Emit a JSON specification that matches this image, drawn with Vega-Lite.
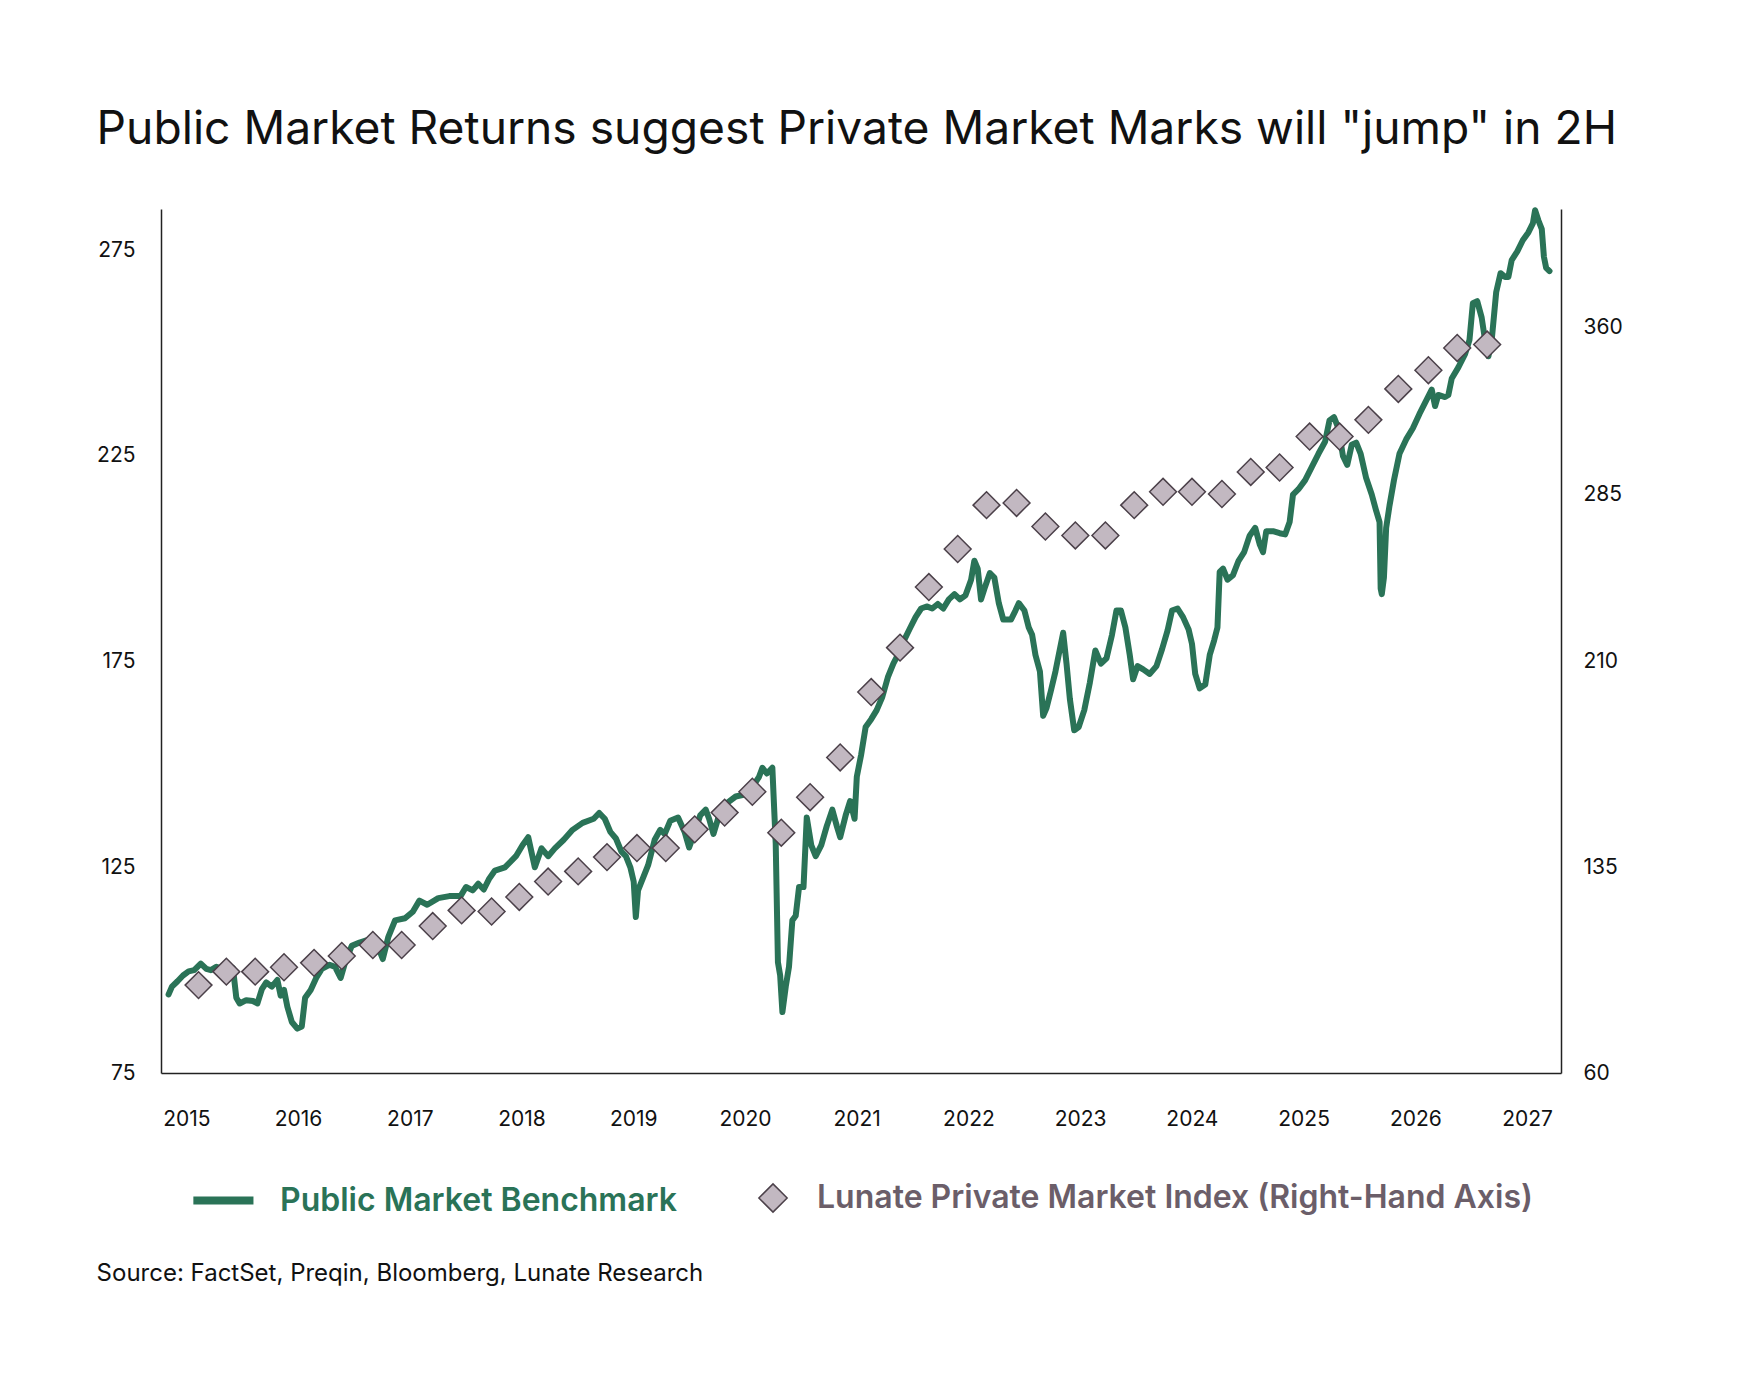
{
  "$schema": "https://vega.github.io/schema/vega-lite/v6.json",
  "background": "white",
  "padding": {"left": 96, "top": 107, "right": 0, "bottom": 0},
  "title": {
    "text": "Public Market Returns suggest Private Market Marks will \"jump\" in 2H",
    "anchor": "start",
    "frame": "bounds",
    "font": "Inter",
    "fontSize": 46.2,
    "fontWeight": 400,
    "color": "#111111",
    "offset": 53
  },
  "resolve": {
    "scale": {"stroke": "independent", "fill": "independent"},
    "legend": {"stroke": "independent", "fill": "independent"}
  },
  "datasets": {
    "bench": [
      {"year": 2014.841, "value": 94.1}, {"year": 2014.871, "value": 96.0}, {"year": 2014.921, "value": 97.3},
      {"year": 2014.970, "value": 98.7}, {"year": 2015.020, "value": 99.7}, {"year": 2015.070, "value": 100.0},
      {"year": 2015.129, "value": 101.6}, {"year": 2015.179, "value": 100.3}, {"year": 2015.219, "value": 100.0},
      {"year": 2015.268, "value": 100.8}, {"year": 2015.318, "value": 100.3}, {"year": 2015.368, "value": 101.3},
      {"year": 2015.417, "value": 100.5}, {"year": 2015.447, "value": 93.3}, {"year": 2015.477, "value": 91.9},
      {"year": 2015.536, "value": 92.7}, {"year": 2015.596, "value": 92.5}, {"year": 2015.636, "value": 91.9},
      {"year": 2015.676, "value": 95.4}, {"year": 2015.715, "value": 97.0}, {"year": 2015.765, "value": 96.0},
      {"year": 2015.815, "value": 97.6}, {"year": 2015.844, "value": 93.8}, {"year": 2015.874, "value": 95.2},
      {"year": 2015.904, "value": 91.1}, {"year": 2015.944, "value": 87.4}, {"year": 2015.993, "value": 85.8},
      {"year": 2016.033, "value": 86.3}, {"year": 2016.063, "value": 93.3}, {"year": 2016.113, "value": 95.2},
      {"year": 2016.162, "value": 98.1}, {"year": 2016.212, "value": 100.3}, {"year": 2016.281, "value": 101.3},
      {"year": 2016.331, "value": 100.8}, {"year": 2016.381, "value": 98.1}, {"year": 2016.421, "value": 101.9},
      {"year": 2016.480, "value": 105.9}, {"year": 2016.550, "value": 106.7}, {"year": 2016.639, "value": 107.5},
      {"year": 2016.708, "value": 106.2}, {"year": 2016.758, "value": 102.7}, {"year": 2016.808, "value": 108.1},
      {"year": 2016.868, "value": 112.1}, {"year": 2016.957, "value": 112.6}, {"year": 2017.027, "value": 114.2},
      {"year": 2017.086, "value": 116.9}, {"year": 2017.156, "value": 115.9}, {"year": 2017.255, "value": 117.5},
      {"year": 2017.354, "value": 118.0}, {"year": 2017.454, "value": 118.0}, {"year": 2017.503, "value": 120.2},
      {"year": 2017.563, "value": 119.4}, {"year": 2017.613, "value": 121.0}, {"year": 2017.662, "value": 119.6},
      {"year": 2017.712, "value": 122.3}, {"year": 2017.762, "value": 124.2}, {"year": 2017.851, "value": 125.0},
      {"year": 2017.950, "value": 127.7}, {"year": 2018.010, "value": 130.4}, {"year": 2018.060, "value": 132.3},
      {"year": 2018.119, "value": 125.0}, {"year": 2018.179, "value": 129.6}, {"year": 2018.238, "value": 127.7},
      {"year": 2018.298, "value": 129.6}, {"year": 2018.378, "value": 131.7}, {"year": 2018.457, "value": 134.1},
      {"year": 2018.547, "value": 135.8}, {"year": 2018.646, "value": 136.8}, {"year": 2018.695, "value": 138.2},
      {"year": 2018.745, "value": 136.8}, {"year": 2018.795, "value": 133.6}, {"year": 2018.845, "value": 132.0},
      {"year": 2018.894, "value": 128.8}, {"year": 2018.934, "value": 127.7}, {"year": 2018.974, "value": 125.0},
      {"year": 2019.004, "value": 121.5}, {"year": 2019.023, "value": 112.9}, {"year": 2019.043, "value": 119.4},
      {"year": 2019.093, "value": 122.8}, {"year": 2019.133, "value": 125.5}, {"year": 2019.192, "value": 131.7},
      {"year": 2019.242, "value": 134.1}, {"year": 2019.282, "value": 133.1}, {"year": 2019.331, "value": 136.3},
      {"year": 2019.401, "value": 137.1}, {"year": 2019.460, "value": 133.6}, {"year": 2019.500, "value": 129.8},
      {"year": 2019.550, "value": 133.6}, {"year": 2019.599, "value": 137.6}, {"year": 2019.649, "value": 139.0},
      {"year": 2019.679, "value": 136.8}, {"year": 2019.718, "value": 133.1}, {"year": 2019.768, "value": 137.6},
      {"year": 2019.838, "value": 140.6}, {"year": 2019.917, "value": 142.2}, {"year": 2019.997, "value": 142.7},
      {"year": 2020.076, "value": 144.9}, {"year": 2020.126, "value": 147.0}, {"year": 2020.156, "value": 149.2},
      {"year": 2020.196, "value": 147.8}, {"year": 2020.245, "value": 149.2}, {"year": 2020.275, "value": 130.9},
      {"year": 2020.295, "value": 101.9}, {"year": 2020.315, "value": 98.7}, {"year": 2020.335, "value": 89.8},
      {"year": 2020.365, "value": 96.0}, {"year": 2020.394, "value": 100.8}, {"year": 2020.424, "value": 112.1},
      {"year": 2020.454, "value": 113.2}, {"year": 2020.484, "value": 120.2}, {"year": 2020.524, "value": 120.2},
      {"year": 2020.553, "value": 137.1}, {"year": 2020.593, "value": 130.4}, {"year": 2020.633, "value": 127.7},
      {"year": 2020.683, "value": 130.4}, {"year": 2020.732, "value": 135.0}, {"year": 2020.782, "value": 139.0},
      {"year": 2020.822, "value": 135.0}, {"year": 2020.852, "value": 132.3}, {"year": 2020.901, "value": 137.6},
      {"year": 2020.941, "value": 141.1}, {"year": 2020.981, "value": 136.8}, {"year": 2021.001, "value": 147.0},
      {"year": 2021.040, "value": 152.4}, {"year": 2021.080, "value": 159.1}, {"year": 2021.130, "value": 161.0},
      {"year": 2021.179, "value": 163.2}, {"year": 2021.229, "value": 166.4}, {"year": 2021.279, "value": 171.2},
      {"year": 2021.328, "value": 174.5}, {"year": 2021.378, "value": 177.1}, {"year": 2021.428, "value": 180.4},
      {"year": 2021.477, "value": 183.1}, {"year": 2021.527, "value": 185.8}, {"year": 2021.577, "value": 187.9},
      {"year": 2021.626, "value": 188.4}, {"year": 2021.676, "value": 187.9}, {"year": 2021.726, "value": 189.0},
      {"year": 2021.775, "value": 187.9}, {"year": 2021.825, "value": 190.1}, {"year": 2021.875, "value": 191.4},
      {"year": 2021.924, "value": 190.1}, {"year": 2021.974, "value": 191.1}, {"year": 2022.024, "value": 194.9},
      {"year": 2022.053, "value": 199.5}, {"year": 2022.083, "value": 197.6}, {"year": 2022.113, "value": 190.1},
      {"year": 2022.143, "value": 192.7}, {"year": 2022.192, "value": 196.5}, {"year": 2022.232, "value": 195.4},
      {"year": 2022.272, "value": 189.2}, {"year": 2022.312, "value": 185.2}, {"year": 2022.381, "value": 185.2},
      {"year": 2022.421, "value": 187.4}, {"year": 2022.451, "value": 189.2}, {"year": 2022.501, "value": 187.4},
      {"year": 2022.540, "value": 183.3}, {"year": 2022.570, "value": 181.5}, {"year": 2022.600, "value": 176.6},
      {"year": 2022.640, "value": 172.6}, {"year": 2022.669, "value": 161.8}, {"year": 2022.699, "value": 163.7},
      {"year": 2022.739, "value": 168.0}, {"year": 2022.779, "value": 172.6}, {"year": 2022.808, "value": 176.6},
      {"year": 2022.848, "value": 182.0}, {"year": 2022.878, "value": 174.5}, {"year": 2022.908, "value": 165.9},
      {"year": 2022.947, "value": 158.3}, {"year": 2022.987, "value": 159.1}, {"year": 2023.037, "value": 163.2},
      {"year": 2023.087, "value": 169.9}, {"year": 2023.136, "value": 177.7}, {"year": 2023.186, "value": 174.5},
      {"year": 2023.236, "value": 175.8}, {"year": 2023.285, "value": 181.5}, {"year": 2023.325, "value": 187.4},
      {"year": 2023.365, "value": 187.4}, {"year": 2023.405, "value": 183.3}, {"year": 2023.444, "value": 176.6},
      {"year": 2023.474, "value": 170.7}, {"year": 2023.514, "value": 173.9}, {"year": 2023.564, "value": 173.1},
      {"year": 2023.623, "value": 172.0}, {"year": 2023.683, "value": 173.9}, {"year": 2023.733, "value": 178.0},
      {"year": 2023.782, "value": 182.5}, {"year": 2023.822, "value": 187.4}, {"year": 2023.872, "value": 187.9},
      {"year": 2023.921, "value": 185.8}, {"year": 2023.971, "value": 182.8}, {"year": 2024.001, "value": 179.3},
      {"year": 2024.030, "value": 172.0}, {"year": 2024.070, "value": 168.5}, {"year": 2024.120, "value": 169.4},
      {"year": 2024.160, "value": 176.6}, {"year": 2024.199, "value": 180.1}, {"year": 2024.229, "value": 183.3},
      {"year": 2024.249, "value": 196.8}, {"year": 2024.279, "value": 197.6}, {"year": 2024.319, "value": 194.9},
      {"year": 2024.368, "value": 196.0}, {"year": 2024.418, "value": 199.5}, {"year": 2024.468, "value": 201.6},
      {"year": 2024.517, "value": 205.6}, {"year": 2024.567, "value": 207.5}, {"year": 2024.607, "value": 203.5},
      {"year": 2024.637, "value": 201.6}, {"year": 2024.666, "value": 206.7}, {"year": 2024.726, "value": 206.7},
      {"year": 2024.786, "value": 206.2}, {"year": 2024.835, "value": 205.9}, {"year": 2024.875, "value": 208.9},
      {"year": 2024.905, "value": 215.6}, {"year": 2024.954, "value": 216.9}, {"year": 2025.014, "value": 219.1},
      {"year": 2025.074, "value": 222.3}, {"year": 2025.133, "value": 225.5}, {"year": 2025.193, "value": 228.5},
      {"year": 2025.232, "value": 233.6}, {"year": 2025.272, "value": 234.4}, {"year": 2025.312, "value": 231.7},
      {"year": 2025.352, "value": 225.0}, {"year": 2025.391, "value": 222.8}, {"year": 2025.431, "value": 227.7},
      {"year": 2025.471, "value": 228.2}, {"year": 2025.511, "value": 225.5}, {"year": 2025.560, "value": 219.6},
      {"year": 2025.610, "value": 215.6}, {"year": 2025.650, "value": 211.6}, {"year": 2025.680, "value": 208.9},
      {"year": 2025.690, "value": 192.7}, {"year": 2025.700, "value": 191.4}, {"year": 2025.719, "value": 195.4},
      {"year": 2025.739, "value": 207.5}, {"year": 2025.769, "value": 212.9}, {"year": 2025.809, "value": 219.1},
      {"year": 2025.858, "value": 225.5}, {"year": 2025.918, "value": 229.0}, {"year": 2025.978, "value": 231.7},
      {"year": 2026.037, "value": 235.2}, {"year": 2026.097, "value": 238.4}, {"year": 2026.147, "value": 241.1},
      {"year": 2026.177, "value": 237.1}, {"year": 2026.206, "value": 239.8}, {"year": 2026.266, "value": 239.3},
      {"year": 2026.296, "value": 239.8}, {"year": 2026.326, "value": 243.8}, {"year": 2026.385, "value": 246.5},
      {"year": 2026.445, "value": 249.7}, {"year": 2026.485, "value": 253.2}, {"year": 2026.515, "value": 262.1},
      {"year": 2026.554, "value": 262.6}, {"year": 2026.594, "value": 258.6}, {"year": 2026.624, "value": 253.2},
      {"year": 2026.654, "value": 249.2}, {"year": 2026.684, "value": 253.2}, {"year": 2026.724, "value": 264.8},
      {"year": 2026.763, "value": 269.4}, {"year": 2026.803, "value": 268.5}, {"year": 2026.833, "value": 268.5},
      {"year": 2026.863, "value": 272.6}, {"year": 2026.913, "value": 274.7}, {"year": 2026.962, "value": 277.4},
      {"year": 2027.012, "value": 279.3}, {"year": 2027.052, "value": 281.5}, {"year": 2027.072, "value": 284.7},
      {"year": 2027.102, "value": 282.2}, {"year": 2027.132, "value": 280.1}, {"year": 2027.151, "value": 273.4},
      {"year": 2027.171, "value": 270.7}, {"year": 2027.201, "value": 269.9}
    ],
    "lunate": [
      {"year": 2015.109, "index": 92.0}, {"year": 2015.358, "index": 96.9}, {"year": 2015.616, "index": 96.9},
      {"year": 2015.874, "index": 98.5}, {"year": 2016.143, "index": 100.1}, {"year": 2016.391, "index": 102.6},
      {"year": 2016.669, "index": 106.6}, {"year": 2016.927, "index": 106.6}, {"year": 2017.205, "index": 113.5},
      {"year": 2017.464, "index": 119.2}, {"year": 2017.732, "index": 118.8}, {"year": 2017.980, "index": 124.1},
      {"year": 2018.238, "index": 129.7}, {"year": 2018.507, "index": 133.4}, {"year": 2018.765, "index": 138.6},
      {"year": 2019.033, "index": 141.9}, {"year": 2019.291, "index": 141.9}, {"year": 2019.550, "index": 148.7},
      {"year": 2019.818, "index": 154.8}, {"year": 2020.066, "index": 162.4}, {"year": 2020.325, "index": 147.5},
      {"year": 2020.583, "index": 160.4}, {"year": 2020.852, "index": 174.9}, {"year": 2021.130, "index": 198.7},
      {"year": 2021.388, "index": 216.0}, {"year": 2021.646, "index": 243.2}, {"year": 2021.904, "index": 260.3},
      {"year": 2022.162, "index": 280.0}, {"year": 2022.431, "index": 281.0}, {"year": 2022.689, "index": 270.4},
      {"year": 2022.957, "index": 266.4}, {"year": 2023.226, "index": 266.4}, {"year": 2023.484, "index": 280.0},
      {"year": 2023.742, "index": 286.0}, {"year": 2024.001, "index": 286.0}, {"year": 2024.269, "index": 285.0},
      {"year": 2024.527, "index": 294.9}, {"year": 2024.785, "index": 296.9}, {"year": 2025.054, "index": 310.8},
      {"year": 2025.322, "index": 310.8}, {"year": 2025.580, "index": 318.3}, {"year": 2025.848, "index": 332.2},
      {"year": 2026.117, "index": 340.6}, {"year": 2026.375, "index": 350.6}, {"year": 2026.643, "index": 352.1}
    ]
  },
  "vconcat": [
    {
      "width": 1400,
      "height": 864,
      "title": {
        "text": "Source: FactSet, Preqin, Bloomberg, Lunate Research",
        "orient": "bottom",
        "anchor": "start",
        "frame": "bounds",
        "font": "Inter",
        "fontSize": 24,
        "fontWeight": 400,
        "color": "#111111",
        "offset": 45
      },
      "resolve": {"scale": {"y": "independent"}, "axis": {"y": "independent"}},
      "layer": [
        {
          "data": {"name": "bench"},
          "mark": {"type": "line", "strokeWidth": 6, "strokeJoin": "round", "strokeCap": "round"},
          "encoding": {
            "x": {
              "field": "year",
              "type": "quantitative",
              "scale": {"domain": [2014.773, 2027.304], "nice": false, "zero": false},
              "axis": {
                "title": null,
                "values": [2015, 2016, 2017, 2018, 2019, 2020, 2021, 2022, 2023, 2024, 2025, 2026, 2027],
                "format": "d",
                "labelPadding": 35
              }
            },
            "y": {
              "field": "value",
              "type": "quantitative",
              "scale": {"domain": [75, 285], "nice": false, "zero": false},
              "axis": {"title": null, "orient": "left", "values": [75, 125, 175, 225, 275], "labelPadding": 26}
            },
            "stroke": {
              "datum": "Public Market Benchmark",
              "type": "nominal",
              "scale": {"range": ["#2a7357"]},
              "legend": {
                "title": null,
                "orient": "bottom",
                "symbolType": "M-1,0L3.25,0",
                "symbolSize": 800,
                "symbolStrokeWidth": 8,
                "symbolStrokeColor": "#2a7357",
                "labelColor": "#2a7357",
                "labelOffset": 54
              }
            }
          }
        },
        {
          "data": {"name": "lunate"},
          "mark": {"type": "point", "shape": "diamond", "filled": true, "size": 720, "stroke": "#4b4049", "strokeWidth": 1.5, "opacity": 1},
          "encoding": {
            "x": {"field": "year", "type": "quantitative"},
            "y": {
              "field": "index",
              "type": "quantitative",
              "scale": {"domain": [60, 210, 360, 412.4], "range": [864, 452, 118, 0], "nice": false, "zero": false},
              "axis": {"title": null, "orient": "right", "values": [60, 135, 210, 285, 360], "labelPadding": 22}
            },
            "fill": {
              "datum": "Lunate Private Market Index (Right-Hand Axis)",
              "type": "nominal",
              "scale": {"range": ["#c2b8c1"]},
              "legend": {
                "title": null,
                "orient": "bottom",
                "symbolType": "diamond",
                "symbolSize": 800,
                "symbolStrokeColor": "#4b4049",
                "symbolStrokeWidth": 1.5,
                "labelColor": "#6b5e69",
                "labelOffset": 28
              }
            }
          }
        }
      ]
    }
  ],
  "config": {
    "font": "Inter",
    "view": {"stroke": null},
    "axis": {
      "grid": false,
      "ticks": false,
      "tickSize": 0,
      "domainColor": "#222222",
      "domainWidth": 1.5,
      "labelFont": "Inter",
      "labelFontSize": 21,
      "labelColor": "#111111"
    },
    "legend": {
      "offset": 53,
      "labelFont": "Inter",
      "labelFontSize": 32,
      "labelFontWeight": 600,
      "labelLimit": 0,
      "layout": {"bottom": {"anchor": "middle", "margin": 80}}
    }
  }
}
